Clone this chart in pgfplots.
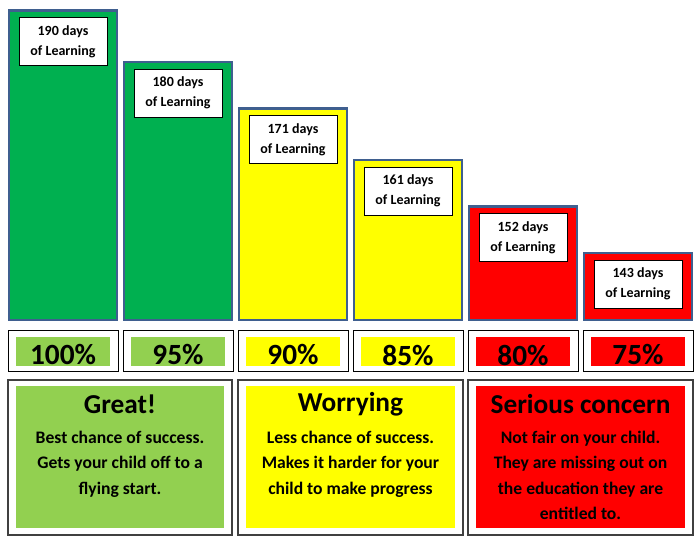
\documentclass[border=0pt]{standalone}
\usepackage{fontspec}
\setmainfont{Carlito}
\usepackage{pgfplots}
\pgfplotsset{compat=1.18}
\definecolor{dgreen}{HTML}{00B050}
\definecolor{lgreen}{HTML}{92D050}
\definecolor{byellow}{HTML}{FFFF00}
\definecolor{bred}{HTML}{FF0000}
\definecolor{edge}{HTML}{3F5F8F}
\tikzset{lbl/.style={draw=black, line width=0.6pt, fill=white, minimum width=66pt, minimum height=36pt,
    inner sep=0pt, align=center, anchor=north, yshift=-5pt, font=\bfseries\fontsize{10.5}{15}\selectfont}}
\begin{document}
\begin{tikzpicture}
\begin{axis}[at={(0,0)},anchor=south west, scale only axis, width=525pt, height=240pt,
  xmin=0,xmax=700,ymin=130,ymax=192.0, hide axis, clip=false]
\addplot[ybar, bar width=81pt, bar shift=0pt, fill=dgreen, draw=edge, line width=2pt] coordinates {(63,190)(178,180)};
\addplot[ybar, bar width=81pt, bar shift=0pt, fill=byellow, draw=edge, line width=2pt] coordinates {(293,171)(408,161)};
\addplot[ybar, bar width=81pt, bar shift=0pt, fill=bred, draw=edge, line width=2pt] coordinates {(523,152)(638,143)};
\node[lbl] at (axis cs:63,190) {190 days\\of Learning};
\node[lbl] at (axis cs:178,180) {180 days\\of Learning};
\node[lbl] at (axis cs:293,171) {171 days\\of Learning};
\node[lbl] at (axis cs:408,161) {161 days\\of Learning};
\node[lbl] at (axis cs:523,152) {152 days\\of Learning};
\node[lbl] at (axis cs:638,143) {143 days\\of Learning};
\end{axis}
\begin{scope}[x=0.75pt,y=-0.75pt,shift={(0pt,240pt)}]
\path (0,0) rectangle (700,539);
\foreach \i/\c/\t in {0/lgreen/100\%,1/lgreen/95\%,2/byellow/90\%,3/byellow/85\%,4/bred/80\%,5/bred/75\%}{
  \pgfmathsetmacro{\xa}{8+115*\i}
  \draw[black, line width=0.75pt] (\xa,331) rectangle (\xa+110,372);
  \fill[\c] (\xa+8,337) rectangle (\xa+102,366);
  \node[font=\bfseries\fontsize{22}{24}\selectfont, inner sep=0pt] at (\xa+55,355) {\t};
}
\draw[black!75, line width=1pt] (8,380) rectangle (232,535);
\fill[lgreen] (16,386) rectangle (224,528);
\draw[black!75, line width=1pt] (238,380) rectangle (463,535);
\fill[byellow] (246,386) rectangle (455,528);
\draw[black!75, line width=1pt] (468,380) rectangle (693,535);
\fill[bred] (476,386) rectangle (685,528);
\node[font=\bfseries\fontsize{20.5}{24}\selectfont, inner sep=0pt] at (120,404) {Great!};
\node[font=\bfseries\fontsize{20.5}{24}\selectfont, inner sep=0pt] at (350.5,404) {Worrying};
\node[font=\bfseries\fontsize{20.5}{24}\selectfont, inner sep=0pt] at (580.5,404) {Serious concern};
\node[font=\bfseries\fontsize{13.2}{19}\selectfont, align=center, anchor=north, inner sep=0pt] at (120,431)
  {Best chance of success.\\Gets your child off to a\\flying start.};
\node[font=\bfseries\fontsize{13.2}{19}\selectfont, align=center, anchor=north, inner sep=0pt] at (350.5,431)
  {Less chance of success.\\Makes it harder for your\\child to make progress};
\node[font=\bfseries\fontsize{13.2}{19}\selectfont, align=center, anchor=north, inner sep=0pt] at (580.5,431)
  {Not fair on your child.\\They are missing out on\\the education they are\\entitled to.};
\end{scope}
\end{tikzpicture}
\end{document}
